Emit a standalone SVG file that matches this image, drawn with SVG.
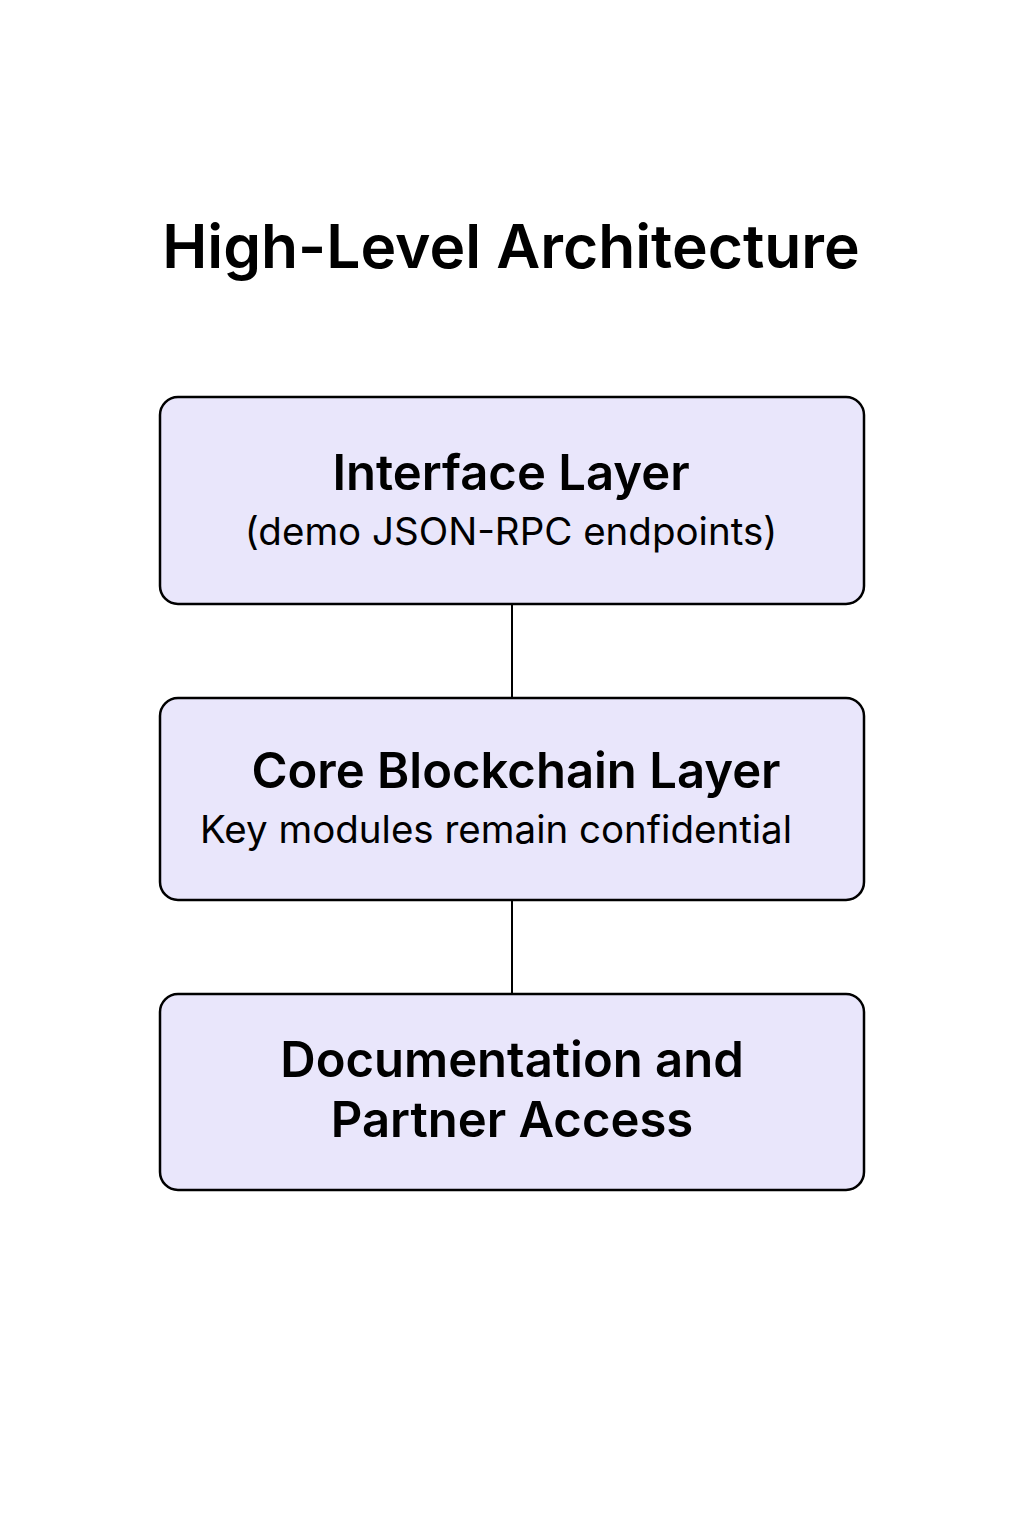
<svg xmlns="http://www.w3.org/2000/svg" width="1024" height="1536" viewBox="0 0 1024 1536">
<style>
.box{fill:#E9E6FB;stroke:#000;stroke-width:2.5}
.t{font-family:Inter,"Noto Sans","Liberation Sans",sans-serif;fill:#000;text-anchor:middle}
.h{font-weight:600;font-size:49px}
.s{font-weight:400;font-size:38.5px}
.conn{stroke:#000;stroke-width:2;fill:none}
</style>
<rect width="1024" height="1536" fill="#fff"/>
<text class="t" x="511" y="268" font-size="60.5" font-weight="600">High-Level Architecture</text>
<g id="connectors">
<line class="conn" x1="512" y1="604" x2="512" y2="698"/>
<line class="conn" x1="512" y1="900" x2="512" y2="994"/>
</g>
<g id="interface">
<rect class="box" x="160" y="397" width="704" height="207" rx="18"/>
<text class="t h" x="511" y="490">Interface Layer</text>
<text class="t s" x="511" y="545">(demo JSON-RPC endpoints)</text>
</g>
<g id="core">
<rect class="box" x="160" y="698" width="704" height="202" rx="18"/>
<text class="t h" x="516" y="788">Core Blockchain Layer</text>
<text class="t s" x="496" y="843">Key modules remain confidential</text>
</g>
<g id="docs">
<rect class="box" x="160" y="994" width="704" height="196" rx="18"/>
<text class="t h" x="512" y="1077">Documentation and</text>
<text class="t h" x="512" y="1137">Partner Access</text>
</g>
</svg>
